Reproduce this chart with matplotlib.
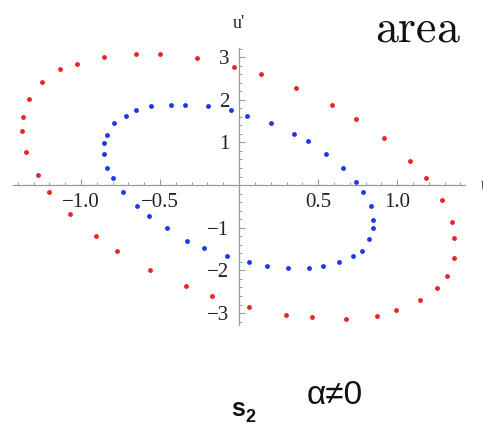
import numpy as np
import matplotlib.pyplot as plt
from matplotlib.ticker import FixedLocator, MultipleLocator

# outer orbit (red) and inner orbit (blue) in the (u, u') phase plane
red_u  = [-0.854, -0.652, -0.500, -0.266, -0.032, 0.139, 0.361, 0.589, 0.741, 0.918,
          1.082, 1.184, 1.285, 1.348, 1.361, 1.361, 1.316, 1.253, 1.146, 0.994,
          0.873, 0.677, 0.462, 0.297, 0.063, -0.171, -0.335, -0.563, -0.772, -0.905,
          -1.070, -1.203, -1.272, -1.348, -1.373, -1.367, -1.329, -1.247, -1.133, -1.025]
red_du = [3.00, 3.07, 3.07, 2.97, 2.76, 2.60, 2.27, 1.87, 1.55, 1.10,
          0.56, 0.16, -0.35, -0.87, -1.24, -1.71, -2.13, -2.41, -2.69, -2.93,
          -3.07, -3.14, -3.09, -3.04, -2.86, -2.60, -2.37, -1.99, -1.55, -1.19,
          -0.68, -0.16, 0.23, 0.77, 1.26, 1.59, 2.01, 2.41, 2.72, 2.83]

blue_u  = [-0.854, -0.854, -0.835, -0.791, -0.715, -0.652, -0.557, -0.430, -0.342, -0.196,
           -0.051, 0.051, 0.203, 0.348, 0.437, 0.551, 0.658, 0.741, 0.785, 0.835,
           0.848, 0.848, 0.823, 0.778, 0.722, 0.633, 0.532, 0.443, 0.310, 0.177,
           0.063, -0.076, -0.222, -0.329, -0.456, -0.570, -0.646, -0.734, -0.797, -0.835]
blue_du = [0.73, 0.98, 1.17, 1.45, 1.62, 1.76, 1.85, 1.87, 1.87, 1.85,
           1.76, 1.62, 1.45, 1.19, 1.03, 0.73, 0.40, 0.07, -0.16, -0.49,
           -0.82, -1.01, -1.26, -1.55, -1.66, -1.80, -1.90, -1.94, -1.94, -1.90,
           -1.80, -1.66, -1.48, -1.31, -1.01, -0.73, -0.49, -0.16, 0.16, 0.40]

xticks = [-1.0, -0.5, 0.5, 1.0]
xlabels = ['\u22121.0', '\u22120.5', '0.5', '1.0']
yticks = [-3, -2, -1, 1, 2, 3]
ylabels = ['\u22123', '\u22122', '\u22121', '1', '2', '3']

fig = plt.figure(figsize=(4.83, 4.26), dpi=100)
ax = fig.add_axes([0.027, 0.237, 0.936, 0.650])

ax.plot(red_u, red_du, 'o', color='#e8262a', markersize=3.5, markeredgewidth=0, clip_on=False)
ax.plot(blue_u, blue_du, 'o', color='#1f35e6', markersize=3.5, markeredgewidth=0, clip_on=False)

ax.set_xlim(-1.43, 1.43)
ax.set_ylim(-3.28, 3.21)

for side in ['top', 'right']:
    ax.spines[side].set_visible(False)
for side in ['left', 'bottom']:
    ax.spines[side].set_position(('data', 0))
    ax.spines[side].set_color('#999999')
    ax.spines[side].set_linewidth(0.9)

serif = 'Liberation Serif'
ax.xaxis.set_major_locator(FixedLocator(xticks))
ax.xaxis.set_minor_locator(MultipleLocator(0.1))
ax.set_xticklabels(xlabels, family=serif, fontsize=15, color='#222222')
ax.yaxis.set_major_locator(FixedLocator(yticks))
ax.yaxis.set_minor_locator(MultipleLocator(0.2))
ax.set_yticklabels(ylabels, family=serif, fontsize=15, color='#222222')

ax.tick_params(axis='both', which='major', direction='in', length=4, width=0.8, color='#999999')
ax.tick_params(axis='both', which='minor', direction='in', length=2.5, width=0.7, color='#999999')
ax.tick_params(axis='x', which='major', pad=6)
ax.tick_params(axis='y', which='major', pad=7)

# axis names (the u on the right runs off the edge)
fig.text(239 / 483, 1 - 24 / 426, "u'", family=serif, fontsize=13, color='#222222',
         ha='center', va='center')
fig.text(481 / 483, 1 - 186 / 426, 'u', family=serif, fontsize=13, color='#222222',
         ha='left', va='center')

plt.rcParams['mathtext.fontset'] = 'cm'
fig.text(375 / 483, 1 - 29 / 426, r'$\mathrm{area}$', fontsize=33, color='#111111',
         ha='left', va='center')

sans = ['Liberation Sans', 'DejaVu Sans']
fig.text(231 / 483, 1 - 416 / 426, 's', family=sans, fontsize=18, fontweight='bold',
         color='#111111', ha='left', va='baseline')
fig.text(245 / 483, 1 - 422 / 426, '2', family=sans, fontsize=13, fontweight='bold',
         color='#111111', ha='left', va='baseline')
fig.text(335 / 483, 1 - 396 / 426, '\u03b1\u22600', family=sans, fontsize=24,
         color='#111111', ha='center', va='center')

fig.savefig('out.png', dpi=100)
